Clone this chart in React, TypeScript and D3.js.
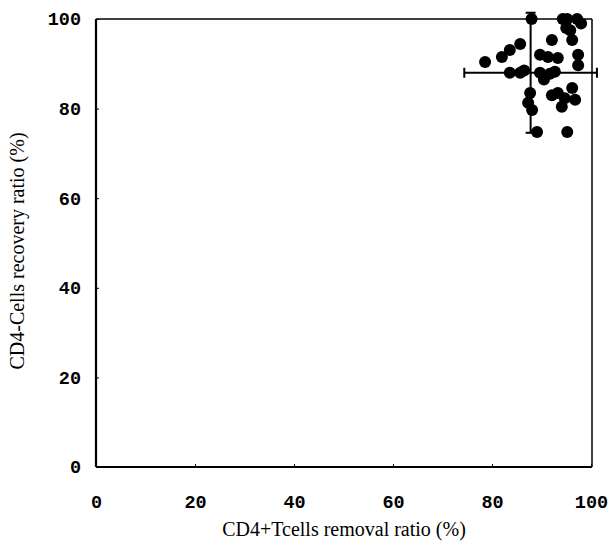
import React, { useEffect, useRef } from 'react';
import * as d3 from 'd3';

// CD4+ T cell removal vs recovery (%), one point per sample
const removalRatio = [
  88, 94.3, 95.2, 97.2, 95.8, 96.2, 92.1, 85.7, 83.6, 82, 78.6, 89.7, 91.3, 93.3,
  97.4, 97.4, 83.6, 85.7, 89.7, 92.7, 91.7, 87.7, 87.3, 88.1, 89.1, 95.2, 92.1,
  93.3, 96.2, 94.7, 94.1, 96.8, 86.5, 90.5, 95, 98,
];
const recoveryRatio = [
  100, 100, 100, 100, 97.5, 95.3, 95.3, 94.4, 93.1, 91.5, 90.4, 92, 91.5, 91.3,
  92, 89.7, 88, 88, 88, 88.2, 87.8, 83.5, 81.3, 79.7, 74.8, 74.8, 83, 83.5,
  84.6, 82.3, 80.4, 82, 88.5, 86.5, 98, 99,
];

// mean +/- SD cross
const meanXY = [87.8, 88];
const sdXY = [13.4, 13.4];

const xTicks = [0, 20, 40, 60, 80, 100];
const yTicks = [0, 20, 40, 60, 80, 100];

const W = 614;
const H = 548;

export default function App() {
  const svgRef = useRef<SVGSVGElement>(null);

  useEffect(() => {
    if (!svgRef.current) return;
    const svg = d3.select(svgRef.current);
    svg.selectAll('*').remove();

    const margin = { top: 19, right: 22, bottom: 81, left: 96 };
    const width = W - margin.left - margin.right;
    const height = H - margin.top - margin.bottom;

    const g = svg.append('g').attr('transform', `translate(${margin.left},${margin.top})`);

    const x = d3.scaleLinear().domain([0, 100]).range([0, width - 1]);
    const y = d3.scaleLinear().domain([0, 100]).range([height, 0]);

    // frame: top and right thin, left and bottom heavier
    g.append('line').attr('x1', 0).attr('x2', width).attr('y1', 0).attr('y2', 0)
      .attr('stroke', '#000').attr('stroke-width', 1.5);
    g.append('line').attr('x1', width).attr('x2', width).attr('y1', 0).attr('y2', height)
      .attr('stroke', '#000').attr('stroke-width', 1.5);

    const xAxis = g.append('g')
      .attr('transform', `translate(0,${height})`)
      .call(d3.axisBottom(x).tickValues(xTicks).tickSize(-3).tickPadding(28).tickFormat(d3.format('d')));
    const yAxis = g.append('g')
      .call(d3.axisLeft(y).tickValues(yTicks).tickSize(-3).tickPadding(15).tickFormat(d3.format('d')));

    [xAxis, yAxis].forEach(a => {
      a.select('.domain').attr('stroke', '#000').attr('stroke-width', 2.2);
      a.selectAll('.tick line').attr('stroke', '#000').attr('stroke-width', 1);
      a.selectAll('.tick text')
        .attr('fill', '#000')
        .attr('font-family', '"Liberation Mono", "DejaVu Sans Mono", monospace')
        .attr('font-weight', 'bold')
        .attr('font-size', '18.5px');
    });
    xAxis.select('.domain').attr('d', `M0,0H${width}`);
    yAxis.select('.domain').attr('d', `M0,${height}V0`);

    // error bars
    const cap = 5;
    const [mx, my] = meanXY;
    const [sx, sy] = sdXY;
    const eb = g.append('g').attr('stroke', '#000').attr('stroke-width', 2);
    eb.append('line').attr('x1', x(mx - sx)).attr('x2', x(mx + sx)).attr('y1', y(my)).attr('y2', y(my));
    eb.append('line').attr('x1', x(mx - sx)).attr('x2', x(mx - sx)).attr('y1', y(my) - cap).attr('y2', y(my) + cap);
    eb.append('line').attr('x1', x(mx + sx)).attr('x2', x(mx + sx)).attr('y1', y(my) - cap).attr('y2', y(my) + cap);
    eb.append('line').attr('x1', x(mx)).attr('x2', x(mx)).attr('y1', y(my - sy)).attr('y2', y(my + sy));
    eb.append('line').attr('x1', x(mx) - cap).attr('x2', x(mx) + cap).attr('y1', y(my + sy)).attr('y2', y(my + sy));
    eb.append('line').attr('x1', x(mx) - cap).attr('x2', x(mx) + cap).attr('y1', y(my - sy)).attr('y2', y(my - sy));

    // points
    g.selectAll('.dot')
      .data(removalRatio.map((v, i) => [v, recoveryRatio[i]]))
      .enter()
      .append('circle')
      .attr('class', 'dot')
      .attr('cx', d => x(d[0]))
      .attr('cy', d => y(d[1]))
      .attr('r', 6)
      .attr('fill', '#000');

    // axis titles
    g.append('text')
      .attr('x', width / 2)
      .attr('y', height + 69)
      .attr('text-anchor', 'middle')
      .attr('font-family', '"Liberation Serif", "Times New Roman", serif')
      .attr('font-size', '20px')
      .attr('fill', '#000')
      .text('CD4+Tcells removal ratio (%)');

    g.append('text')
      .attr('transform', `translate(${-margin.left + 24},${height / 2 + 8}) rotate(-90)`)
      .attr('text-anchor', 'middle')
      .attr('font-family', '"Liberation Serif", "Times New Roman", serif')
      .attr('font-size', '20px')
      .attr('fill', '#000')
      .text('CD4-Cells recovery ratio (%)');
  }, []);

  return (
    <svg
      ref={svgRef}
      width={W}
      height={H}
      style={{ position: 'absolute', left: 0, top: 0, background: '#fff' }}
    />
  );
}
